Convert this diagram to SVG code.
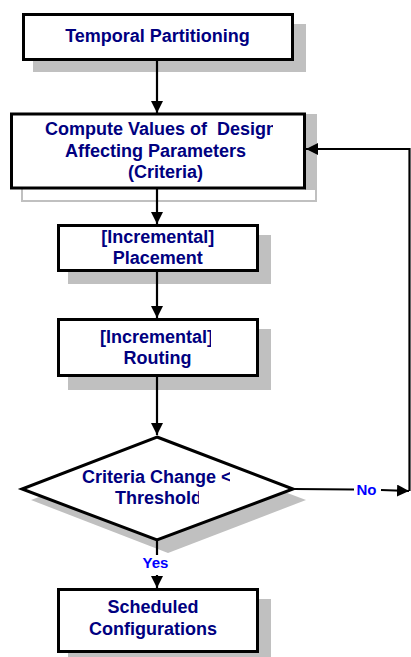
<svg xmlns="http://www.w3.org/2000/svg" width="411" height="657" viewBox="0 0 411 657">
  <style>
    .box { fill: #ffffff; stroke: #000000; stroke-width: 3; }
    .shadow { fill: #c0c0c0; stroke: none; }
    .label { font-family: "Liberation Sans", Arial, sans-serif; font-weight: bold; font-size: 18px; fill: #000080; text-anchor: middle; }
    .flag { font-family: "Liberation Sans", Arial, sans-serif; font-weight: bold; font-size: 15px; fill: #0000ff; text-anchor: middle; }
    .wire { fill: none; stroke: #000000; stroke-width: 2.2; }
  </style>
  <defs>
    <marker id="head" markerUnits="userSpaceOnUse" markerWidth="13" markerHeight="12" refX="12" refY="6" orient="auto">
      <path d="M0,0 L12,6 L0,12 Z" fill="#000000"/>
    </marker>
    <clipPath id="clipCompute"><rect x="0" y="115" width="273" height="30"/></clipPath>
    <clipPath id="clipRouting"><rect x="0" y="320" width="211" height="30"/></clipPath>
    <clipPath id="clipCrit1"><rect x="0" y="460" width="230" height="30"/></clipPath>
    <clipPath id="clipCrit2"><rect x="0" y="488" width="199" height="24"/></clipPath>
  </defs>

  <g id="temporal-partitioning">
    <rect class="shadow" x="33" y="24" width="273" height="48"/>
    <rect class="box" x="23.5" y="14.5" width="269" height="45"/>
    <text class="label" x="157.5" y="42">Temporal Partitioning</text>
  </g>

  <g id="compute-criteria">
    <rect x="22" y="115" width="294" height="86" fill="#ffffff" stroke="#c0c0c0" stroke-width="2"/>
    <rect class="shadow" x="305" y="115" width="11" height="75"/>
    <rect class="box" x="11.5" y="114" width="293" height="74"/>
    <text class="label" x="45" y="135" style="text-anchor:start" xml:space="preserve" clip-path="url(#clipCompute)">Compute Values of  Design</text>
    <text class="label" x="65" y="156.7" style="text-anchor:start">Affecting Parameters</text>
    <text class="label" x="128" y="178" style="text-anchor:start">(Criteria)</text>
  </g>

  <g id="placement">
    <rect class="shadow" x="68" y="235" width="203" height="49"/>
    <rect class="box" x="58.5" y="225.5" width="199" height="45"/>
    <text class="label" x="157.7" y="243.3">[Incremental]</text>
    <text class="label" x="157.7" y="264">Placement</text>
  </g>

  <g id="routing">
    <rect class="shadow" x="68" y="329" width="203" height="61"/>
    <rect class="box" x="58.5" y="319.5" width="199" height="56"/>
    <text class="label" x="100" y="342.7" style="text-anchor:start" clip-path="url(#clipRouting)">[Incremental]</text>
    <text class="label" x="157.5" y="364">Routing</text>
  </g>

  <g id="criteria-check">
    <polygon class="shadow" points="168,448 306,500 168,553 31,500"/>
    <polygon class="box" points="157,437 293,489 157,540 22,489"/>
    <text class="label" x="82" y="482.7" style="text-anchor:start" clip-path="url(#clipCrit1)">Criteria Change &lt;</text>
    <text class="label" x="115" y="504" style="text-anchor:start" clip-path="url(#clipCrit2)">Threshold</text>
  </g>

  <g id="scheduled-configurations">
    <rect class="shadow" x="68" y="599" width="203" height="58"/>
    <rect class="box" x="58.5" y="589.5" width="199" height="62"/>
    <text class="label" x="153" y="613">Scheduled</text>
    <text class="label" x="153" y="635">Configurations</text>
  </g>

  <g id="connectors">
    <line class="wire" x1="157" y1="61" x2="157" y2="113" marker-end="url(#head)"/>
    <line class="wire" x1="157" y1="189" x2="157" y2="224" marker-end="url(#head)"/>
    <line class="wire" x1="157" y1="272" x2="157" y2="318" marker-end="url(#head)"/>
    <line class="wire" x1="157" y1="377" x2="157" y2="435" marker-end="url(#head)"/>
    <line class="wire" x1="157" y1="541" x2="157" y2="555"/>
    <line class="wire" x1="157" y1="575" x2="157" y2="588" marker-end="url(#head)"/>
    <line class="wire" x1="294" y1="489" x2="354" y2="489.5"/>
    <line class="wire" x1="381" y1="490" x2="409" y2="491" marker-end="url(#head)"/>
    <polyline class="wire" points="409.5,491 409.5,149 306,149" marker-end="url(#head)"/>
    <text class="flag" x="366.5" y="495" font-size="16">No</text>
    <text class="flag" x="155.5" y="568">Yes</text>
  </g>
</svg>
